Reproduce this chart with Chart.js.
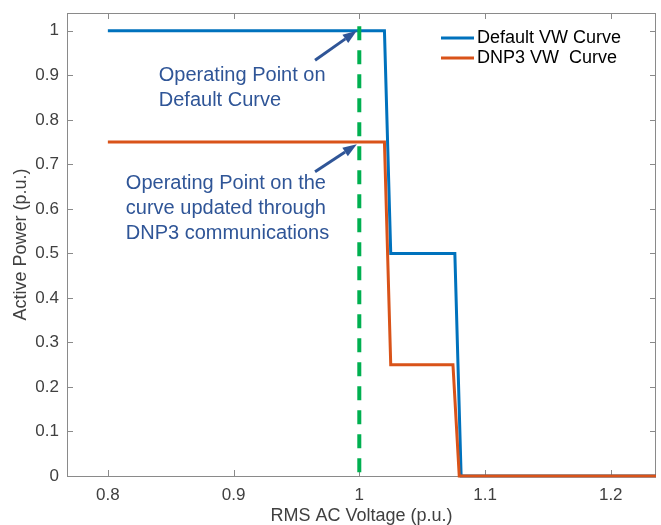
<!DOCTYPE html>
<html>
<head>
<meta charset="utf-8">
<script src="https://cdn.jsdelivr.net/npm/chart.js@4"></script>
<style>
  html, body { margin: 0; padding: 0; background: #fff; }
  #wrap { width: 661px; height: 525px; }
</style>
</head>
<body>
<div id="wrap"><canvas id="chart" width="661" height="525"></canvas></div>
<script>
// DATA
const defaultV = [0.8, 1.02, 1.025, 1.076, 1.081, 1.236];
const defaultP = [1, 1, 0.5, 0.5, 0, 0];
const dnp3V = [0.8, 1.02, 1.025, 1.0745, 1.0795, 1.236];
const dnp3P = [0.75, 0.75, 0.25, 0.25, 0, 0];
const opV = [1, 1];
const opP = [1.01, 0];
const xTicks = [0.8, 0.9, 1, 1.1, 1.2];
const yTicks = [0, 0.1, 0.2, 0.3, 0.4, 0.5, 0.6, 0.7, 0.8, 0.9, 1];

const FONT = 'Arial, "Liberation Sans", sans-serif';
const AXIS = '#8a8a8a';
const NOTE = '#2F5597';

function pts(xs, ys) {
    return xs.map((x, i) => ({ x: x, y: ys[i] }));
}
function fmt(v) {
    return String(Number(v.toFixed(2)));
}

// notes and arrows, in data units
const notes = [
    { x: 0.8405, y: 0.9, lines: ['Operating Point on', 'Default Curve'] },
    { x: 0.8143, y: 0.657, lines: ['Operating Point on the', 'curve updated through', 'DNP3 communications'] }
];
const arrows = [
    { from: [0.9648, 0.934], to: [0.998, 1.0] },
    { from: [0.9648, 0.6835], to: [0.998, 0.745] }
];

// box + inward ticks
const framePlugin = {
    id: 'frame',
    beforeDatasetsDraw(chart) {
        const { ctx, chartArea: a, scales: { x, y } } = chart;
        ctx.save();
        ctx.strokeStyle = AXIS;
        ctx.lineWidth = 1;
        ctx.strokeRect(a.left + 0.5, a.top + 0.5, a.right - a.left - 1, a.bottom - a.top);
        ctx.beginPath();
        xTicks.forEach(v => {
            const px = Math.round(x.getPixelForValue(v)) + 0.5;
            ctx.moveTo(px, a.bottom); ctx.lineTo(px, a.bottom - 6);
            ctx.moveTo(px, a.top); ctx.lineTo(px, a.top + 6);
        });
        yTicks.forEach(v => {
            const py = Math.round(y.getPixelForValue(v)) + 0.5;
            ctx.moveTo(a.left, py); ctx.lineTo(a.left + 6, py);
            ctx.moveTo(a.right, py); ctx.lineTo(a.right - 6, py);
        });
        ctx.stroke();
        ctx.restore();
    },
    afterDatasetsDraw(chart) {
        const { ctx, scales: { x, y } } = chart;
        ctx.save();
        // notes
        ctx.fillStyle = NOTE;
        ctx.font = '20px ' + FONT;
        ctx.textBaseline = 'middle';
        ctx.textAlign = 'left';
        notes.forEach(n => {
            const px = x.getPixelForValue(n.x);
            const py = y.getPixelForValue(n.y);
            n.lines.forEach((t, i) => ctx.fillText(t, px, py + i * 25));
        });
        // arrows
        ctx.strokeStyle = NOTE;
        ctx.lineWidth = 3;
        arrows.forEach(ar => {
            const x0 = x.getPixelForValue(ar.from[0]), y0 = y.getPixelForValue(ar.from[1]);
            const x1 = x.getPixelForValue(ar.to[0]), y1 = y.getPixelForValue(ar.to[1]);
            const ang = Math.atan2(y1 - y0, x1 - x0);
            const hl = 14, hw = 5;
            const bx = x1 - hl * Math.cos(ang), by = y1 - hl * Math.sin(ang);
            ctx.beginPath();
            ctx.moveTo(x0, y0);
            ctx.lineTo(bx, by);
            ctx.stroke();
            ctx.beginPath();
            ctx.moveTo(x1, y1);
            ctx.lineTo(bx + hw * Math.sin(ang), by - hw * Math.cos(ang));
            ctx.lineTo(bx - hw * Math.sin(ang), by + hw * Math.cos(ang));
            ctx.closePath();
            ctx.fill();
        });
        ctx.restore();
    },
    afterDraw(chart) {
        // legend, Default curve first
        const { ctx } = chart;
        const items = chart.data.datasets.filter(d => d.legendRow !== undefined)
            .sort((a, b) => a.legendRow - b.legendRow);
        ctx.save();
        ctx.font = '18px ' + FONT;
        ctx.textBaseline = 'middle';
        ctx.fillStyle = '#000';
        items.forEach((d, i) => {
            const yy = 38 + i * 20;
            ctx.strokeStyle = d.borderColor;
            ctx.lineWidth = 3;
            ctx.beginPath();
            ctx.moveTo(441, yy); ctx.lineTo(474, yy);
            ctx.stroke();
            ctx.fillText(d.label, 477, yy);
        });
        ctx.restore();
    }
};

const ctx = document.getElementById('chart').getContext('2d');
const chart = new Chart(ctx, {
    type: 'line',
    data: {
        datasets: [
            {
                label: 'Operating voltage',
                data: pts(opV, opP),
                borderColor: '#00B050',
                borderWidth: 4,
                borderDash: [14, 10]
            },
            {
                label: 'DNP3 VW  Curve',
                data: pts(dnp3V, dnp3P),
                borderColor: '#D95319',
                borderWidth: 3,
                legendRow: 1
            },
            {
                label: 'Default VW Curve',
                data: pts(defaultV, defaultP),
                borderColor: '#0072BD',
                borderWidth: 3,
                legendRow: 0
            }
        ]
    },
    options: {
        responsive: false,
        animation: false,
        elements: { point: { radius: 0 }, line: { tension: 0, fill: false } },
        datasets: { line: { clip: false } },
        layout: { padding: { top: 13, right: 5, left: 0, bottom: 0 } },
        plugins: { legend: { display: false }, tooltip: { enabled: false } },
        scales: {
            x: {
                type: 'linear',
                min: 0.7675,
                max: 1.236,
                afterBuildTicks: s => { s.ticks = xTicks.map(v => ({ value: v })); },
                afterFit: s => { s.height = 49; s.paddingLeft = 0; s.paddingRight = 0; },
                grid: { display: false, drawTicks: false },
                border: { display: false },
                ticks: { font: { family: FONT, size: 17 }, color: '#404040', padding: 9, callback: fmt },
                title: { display: true, text: 'RMS AC Voltage (p.u.)', font: { family: FONT, size: 18 }, color: '#404040', padding: { top: 0, bottom: -2 } }
            },
            y: {
                min: 0,
                max: 1.04,
                afterBuildTicks: s => { s.ticks = yTicks.map(v => ({ value: v })); },
                afterFit: s => { s.width = 67; s.paddingTop = 0; s.paddingBottom = 0; },
                grid: { display: false, drawTicks: false },
                border: { display: false },
                ticks: { font: { family: FONT, size: 17 }, color: '#404040', padding: 8, callback: fmt },
                title: { display: true, text: 'Active Power (p.u.)', font: { family: FONT, size: 18 }, color: '#404040', padding: { top: 10, bottom: 0 } }
            }
        }
    },
    plugins: [framePlugin]
});
</script>
</body>
</html>
